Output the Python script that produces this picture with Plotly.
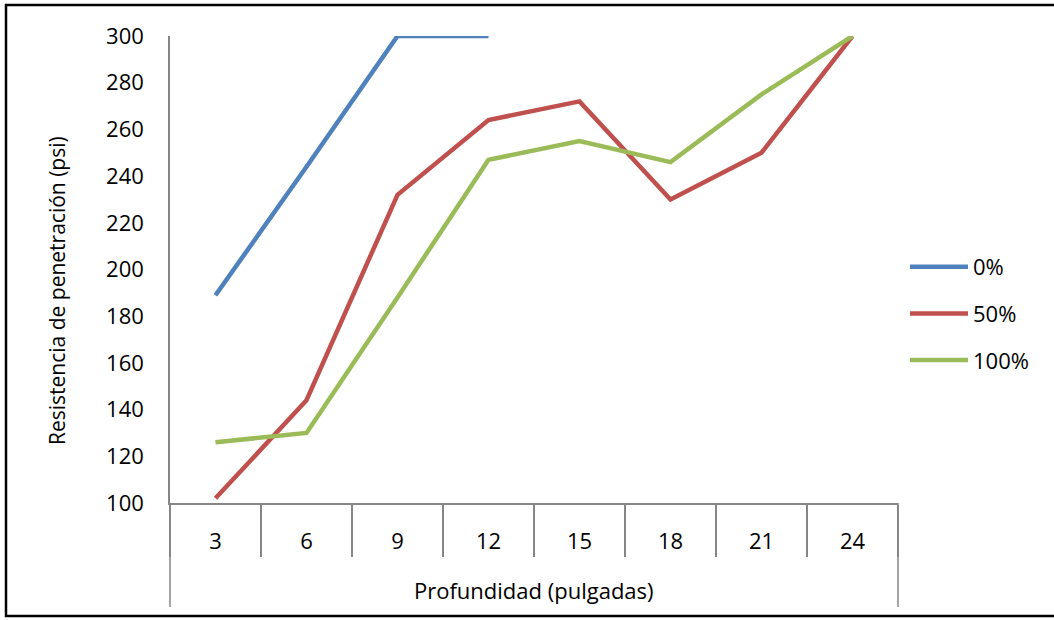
import plotly.graph_objects as go

depths = ["3", "6", "9", "12", "15", "18", "21", "24"]
s0 = [189, 244, 300, 300, None, None, None, None]
s50 = [102, 144, 232, 264, 272, 230, 250, 300]
s100 = [126, 130, 188, 247, 255, 246, 275, 300]
names = ["0%", "50%", "100%"]
colors = ["#4F81BD", "#C0504D", "#9BBB59"]
yticks = list(range(100, 301, 20))

FONT = "'Open Sans', Lato, sans-serif"
FS = 22
W, H = 1054, 620
L, R, T, B = 170, 156, 36, 117
pw, ph = W - L - R, H - T - B

fig = go.Figure()
for i, (nm, ys, c) in enumerate(zip(names, [s0, s50, s100], colors)):
    fig.add_trace(go.Scatter(x=depths, y=ys, name=nm, mode="lines",
                             line=dict(color=c, width=4.5),
                             legendgroup=nm, connectgaps=False))

def px_x(p):
    return (p - L) / pw

def px_y(p):
    return (H - B - p) / ph

shapes = [
    dict(type="line", xref="paper", yref="paper", x0=0, x1=0, y0=0, y1=px_y(607),
         line=dict(color="#868686", width=1.5)),
    dict(type="line", xref="paper", yref="paper", x0=1, x1=1, y0=0, y1=px_y(607),
         line=dict(color="#868686", width=1.5)),
    dict(type="rect", xref="paper", yref="paper", x0=px_x(6), x1=px_x(1070),
         y0=px_y(616), y1=px_y(5), line=dict(color="black", width=2.5),
         fillcolor="rgba(0,0,0,0)", layer="below"),
]

annotations = [
    dict(text="Profundidad (pulgadas)", xref="paper", yref="paper",
         x=0.5, y=px_y(590), xanchor="center", yanchor="middle",
         showarrow=False, font=dict(size=FS, family=FONT, color="black")),
    dict(text="Resistencia de penetración (psi)", xref="paper", yref="paper",
         x=px_x(57), y=px_y(291), xanchor="center", yanchor="middle",
         textangle=-90, showarrow=False,
         font=dict(size=21, family=FONT, color="black")),
]

fig.update_layout(
    width=W, height=H,
    margin=dict(l=L, r=R, t=T, b=B),
    paper_bgcolor="white", plot_bgcolor="white",
    font=dict(family=FONT, size=FS, color="black"),
    showlegend=True,
    legend=dict(x=px_x(905), y=px_y(246), xanchor="left", yanchor="top",
                font=dict(size=FS), tracegroupgap=15, traceorder="grouped",
                itemwidth=58, bgcolor="rgba(0,0,0,0)"),
    xaxis=dict(type="category", categoryarray=depths, range=[-0.5, 7.5],
               showline=True, linecolor="#868686", linewidth=1.5,
               ticks="outside", tickson="boundaries", ticklen=52,
               tickcolor="#868686", tickwidth=1.5,
               ticklabelstandoff=18,
               showgrid=False, zeroline=False,
               tickfont=dict(size=FS)),
    yaxis=dict(range=[100, 300], tickvals=yticks, showline=True,
               linecolor="#868686", linewidth=1.5, ticks="", showgrid=False,
               zeroline=False, tickfont=dict(size=FS), ticklabelstandoff=20),
    shapes=shapes,
    annotations=annotations,
)

fig.write_html("out.html", config={"displayModeBar": False},
               post_script="document.body.style.margin='0px';")
